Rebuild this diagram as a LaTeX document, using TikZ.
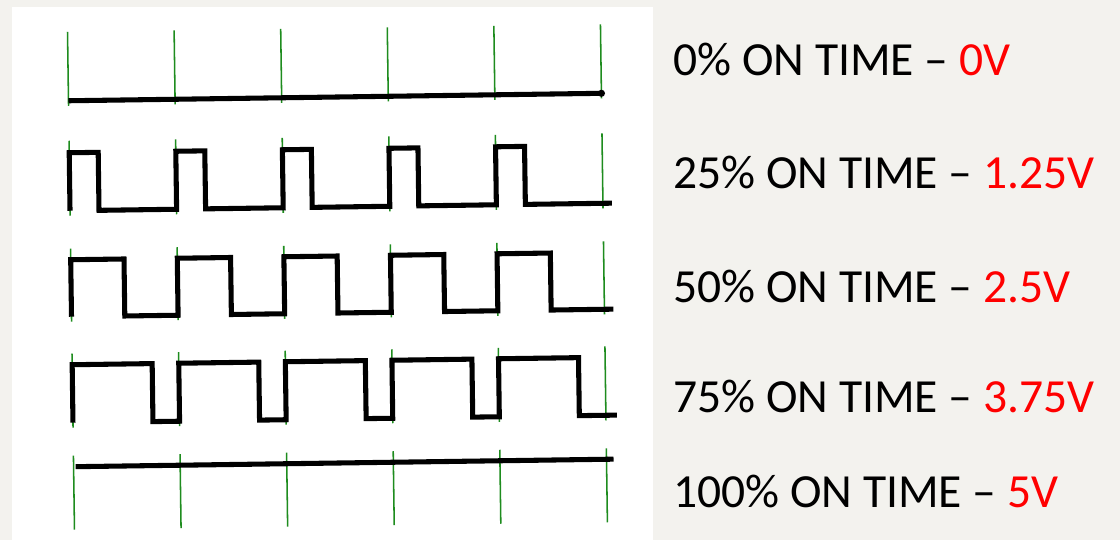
\documentclass[tikz,border=0pt]{standalone}
\usepackage{fontspec}
\setmainfont{Carlito}
\usetikzlibrary{positioning}
\definecolor{paper}{HTML}{F3F2EE}
\definecolor{tickgreen}{HTML}{1E8C1E}
\definecolor{volt}{HTML}{FF0000}
\tikzset{
    wave/.style={line width=3.6pt, draw=black, line join=miter},
    gridtick/.style={line width=1.1pt, draw=tickgreen},
    duty/.style={anchor=base west, inner sep=0pt, font=\fontsize{33.8}{40}\selectfont}
}
\newcommand{\volts}[1]{\textcolor{volt}{#1}}

\begin{document}
\begin{tikzpicture}[x=0.025cm, y=-0.025cm]
    % page and scanned panel
    \fill[paper] (0,0) rectangle (1120,540);
    \fill[white] (12,7) rectangle (653,540);
    \useasboundingbox (0,0) rectangle (1120,540);

    % the scan is a little skewed
    \begin{scope}[rotate around={0.8:(338,280)}]
        \foreach \t/\b in {28/102, 137/212, 245/318, 350/424, 452/526}
            \foreach \i in {0,...,5}
                \draw[gridtick] (71+106.6*\i,\t) -- (71+106.6*\i,\b);

        % 0%
        \draw[wave] (71,97) -- (604,97);
        \fill (604,97) circle (3.6);
        % 25%
        \draw[wave] (71,207) \foreach \i in {0,...,4} { -- ++(0,-58) -- ++(29,0) -- ++(0,58) -- ++(77.6,0) } -- ++(9,0);
        % 50%
        \draw[wave] (71,313) \foreach \i in {0,...,4} { -- ++(0,-57) -- ++(53.3,0) -- ++(0,57) -- ++(53.3,0) } -- ++(9,0);
        % 75%
        \draw[wave] (71,419) \foreach \i in {0,...,4} { -- ++(0,-58) -- ++(80,0) -- ++(0,58) -- ++(26.6,0) } -- ++(11,0);
        % 100%
        \draw[wave] (73,463) -- (611,463);
    \end{scope}

    % duty cycle labels
    \node (d0) [duty] at (673,75) {0\% ON TIME – \volts{0V}};
    \node (d25) [duty] at (673,188) {25\% ON TIME – \volts{1.25V}};
    \node (d50) [duty] at (673,302) {50\% ON TIME – \volts{2.5V}};
    \node (d75) [duty] at (673,412) {75\% ON TIME – \volts{3.75V}};
    \node (d100) [duty] at (673,507) {100\% ON TIME – \volts{5V}};
\end{tikzpicture}
\end{document}
